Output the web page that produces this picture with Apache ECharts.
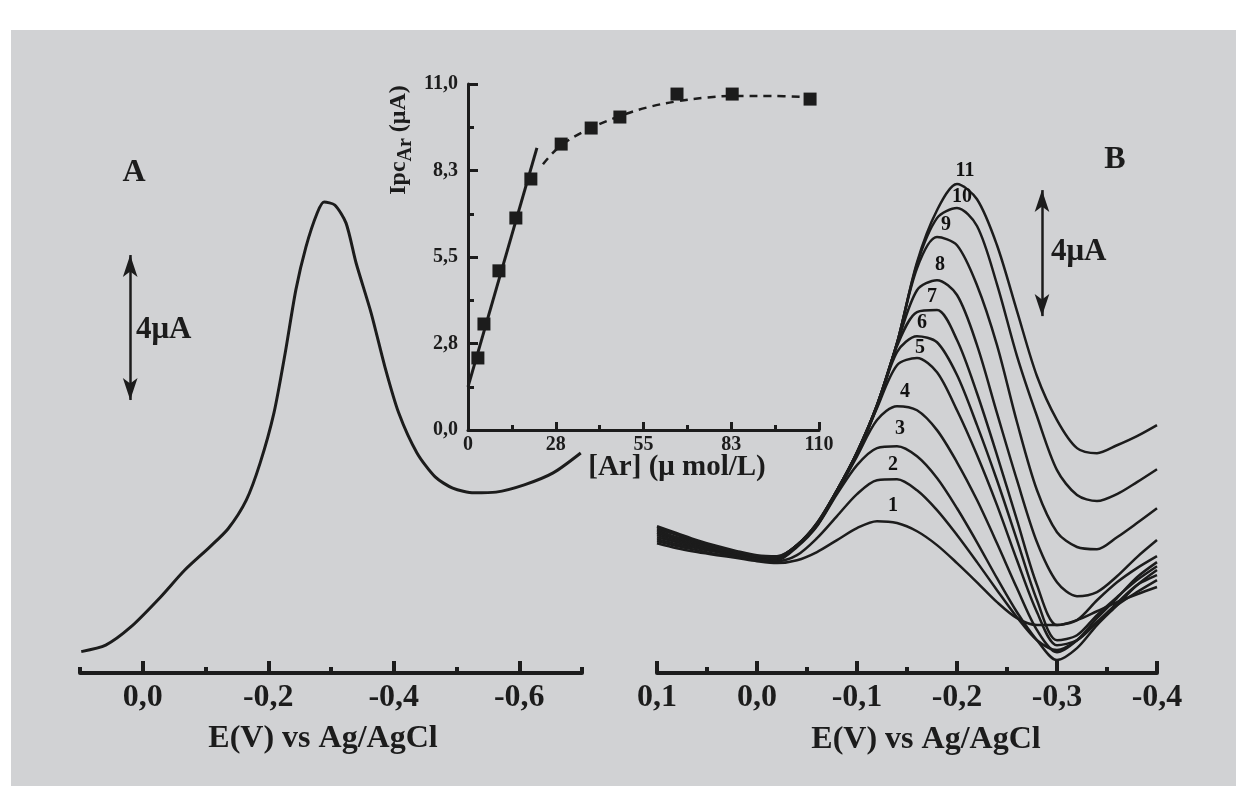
<!DOCTYPE html>
<html>
<head>
<meta charset="utf-8">
<title>Voltamogramas</title>
<script src="https://cdn.jsdelivr.net/npm/echarts@6.0.0/dist/echarts.min.js"></script>
<style>
  html, body { margin: 0; padding: 0; background: #ffffff; }
  #fundo { position: absolute; left: 11px; top: 30px; width: 1225px; height: 756px; background: #d1d2d4; }
  #grafico { position: absolute; left: 0; top: 0; width: 1236px; height: 786px; }
</style>
</head>
<body>
<div id="fundo"></div>
<div id="grafico"></div>
<script>
// ---- Painel A: voltamograma único (E em V, corrente em µA) ----
const aPotential = [0.098, 0.059, 0.019, -0.027, -0.067, -0.107, -0.136, -0.165, -0.187, -0.209,
  -0.227, -0.244, -0.260, -0.278, -0.289, -0.306, -0.324, -0.340, -0.364, -0.386,
  -0.408, -0.437, -0.466, -0.494, -0.528, -0.563, -0.608, -0.654, -0.698];
const aCurrent = [0.59, 0.77, 1.27, 2.07, 2.84, 3.48, 3.98, 4.77, 5.79, 7.17,
  8.83, 10.57, 11.75, 12.69, 12.99, 12.91, 12.41, 11.31, 9.93, 8.44,
  7.17, 6.07, 5.41, 5.10, 4.97, 4.99, 5.19, 5.52, 6.07];
const aScaleBar = [[0.02, 7.53], [0.02, 11.53]]; // barra de 4 µA

// ---- Painel B: 11 voltamogramas ----
const bPotential = [0.10, 0.08, 0.06, 0.04, 0.02, 0.00, -0.02, -0.04, -0.06, -0.08, -0.10, -0.12, -0.14,
  -0.16, -0.18, -0.20, -0.22, -0.24, -0.26, -0.28, -0.30, -0.32, -0.34, -0.36, -0.38, -0.40];
const bCurve1 = [4.22, 4.06, 3.94, 3.84, 3.75, 3.65, 3.59, 3.68, 3.94, 4.32, 4.70, 4.92, 4.86, 4.60, 4.16, 3.59, 2.98, 2.35, 1.84, 1.62, 1.62, 1.78, 2.06, 2.35, 2.60, 2.83];
const bCurve2 = [4.29, 4.13, 4.00, 3.87, 3.78, 3.68, 3.65, 3.84, 4.38, 5.08, 5.78, 6.22, 6.25, 5.90, 5.27, 4.48, 3.62, 2.73, 1.87, 1.14, 0.83, 1.14, 1.71, 2.25, 2.67, 3.05];
const bCurve3 = [4.35, 4.19, 4.06, 3.94, 3.81, 3.71, 3.68, 4.10, 4.76, 5.78, 6.70, 7.24, 7.30, 6.98, 6.29, 5.33, 4.25, 3.11, 2.03, 1.14, 0.51, 0.89, 1.62, 2.25, 2.89, 3.37];
const bCurve4 = [4.41, 4.25, 4.10, 3.97, 3.84, 3.75, 3.71, 4.13, 4.79, 5.84, 6.98, 8.13, 8.57, 8.44, 7.81, 6.79, 5.59, 4.22, 2.79, 1.46, 0.76, 1.14, 1.84, 2.48, 3.14, 3.62];
const bCurve5 = [4.48, 4.29, 4.13, 4.00, 3.84, 3.75, 3.71, 4.13, 4.79, 5.87, 7.02, 8.51, 9.87, 10.10, 9.65, 8.44, 7.02, 5.43, 3.68, 2.03, 0.98, 1.14, 1.71, 2.32, 2.89, 3.21];
const bCurve6 = [4.54, 4.35, 4.16, 4.03, 3.87, 3.78, 3.75, 4.16, 4.79, 5.87, 7.05, 8.54, 10.29, 10.79, 10.60, 9.56, 7.97, 6.22, 4.32, 2.41, 1.14, 1.30, 1.94, 2.51, 3.05, 3.49];
const bCurve7 = [4.57, 4.38, 4.19, 4.03, 3.90, 3.78, 3.75, 4.16, 4.83, 5.90, 7.08, 8.57, 10.48, 11.56, 11.62, 10.67, 8.98, 7.02, 4.95, 2.89, 1.62, 1.78, 2.41, 2.98, 3.43, 3.81];
const bCurve8 = [4.63, 4.41, 4.22, 4.06, 3.90, 3.81, 3.78, 4.16, 4.83, 5.90, 7.08, 8.60, 10.54, 12.25, 12.57, 12.10, 10.51, 8.35, 6.22, 4.25, 2.98, 2.54, 2.67, 3.17, 3.78, 4.32];
const bCurve9 = [4.67, 4.48, 4.25, 4.10, 3.94, 3.81, 3.78, 4.16, 4.83, 5.90, 7.11, 8.60, 10.57, 12.95, 13.94, 13.68, 12.41, 10.51, 8.06, 5.90, 4.57, 4.10, 4.03, 4.41, 4.86, 5.33];
const bCurve10 = [4.73, 4.51, 4.29, 4.10, 3.94, 3.81, 3.78, 4.16, 4.86, 5.90, 7.11, 8.60, 10.57, 13.08, 14.54, 14.86, 14.29, 12.44, 10.16, 8.25, 6.54, 5.75, 5.56, 5.78, 6.16, 6.57];
const bCurve11 = [4.76, 4.54, 4.32, 4.13, 3.97, 3.84, 3.81, 4.16, 4.86, 5.90, 7.11, 8.60, 10.57, 13.14, 14.79, 15.62, 15.14, 13.68, 11.59, 9.52, 8.13, 7.24, 7.08, 7.33, 7.62, 7.97];
const bLabelNames = ['1', '2', '3', '4', '5', '6', '7', '8', '9', '10', '11'];
const bLabelPos = [[-0.136, 5.40], [-0.136, 6.70], [-0.143, 7.84], [-0.148, 9.02], [-0.163, 10.41], [-0.165, 11.21],
  [-0.175, 12.03], [-0.183, 13.05], [-0.189, 14.32], [-0.205, 15.21], [-0.208, 16.05]];
const bScaleBar = [[-0.285, 11.43], [-0.285, 15.43]];

// ---- Inserção: Ipc x [Ar] ----
const insetConc = [3.1, 5.0, 9.7, 15.0, 19.7, 29.2, 38.6, 47.6, 65.5, 82.8, 107.2];
const insetIpc = [2.29, 3.37, 5.06, 6.74, 7.98, 9.09, 9.60, 9.95, 10.68, 10.68, 10.52];
const linFitConc = [0, 21.6];
const linFitIpc = [1.37, 8.97];
const curveFitConc = [23.5, 29.2, 38.6, 47.6, 56, 65.5, 75, 83, 95, 107.2];
const curveFitIpc = [8.45, 9.05, 9.60, 9.98, 10.25, 10.45, 10.57, 10.62, 10.62, 10.58];

// ---- marcas dos eixos ----
const aMajorTicks = [0, -0.2, -0.4, -0.6];
const aMinorTicks = [0.1, -0.1, -0.3, -0.5, -0.7];
const bMajorTicks = [0.1, 0, -0.1, -0.2, -0.3, -0.4];
const bMinorTicks = [0.05, -0.05, -0.15, -0.25, -0.35];
const insetXMajor = [0, 27.5, 55, 82.5, 110];
const insetXMinor = [13.75, 41.25, 68.75, 96.25];
const insetYMajor = [0, 2.75, 5.5, 8.25, 11];
const insetYMinor = [1.375, 4.125, 6.875, 9.625];

const cor = '#1c1c1c';
const serif = '"Liberation Serif", "DejaVu Serif", serif';
const virgula = (v) => v.toFixed(1).replace('.', ',');
const zip = (xs, ys) => xs.map((x, i) => [x, ys[i]]);

// eixo com marcas personalizadas (principal ou secundário)
function eixo(gridIndex, min, max, opt) {
  return {
    gridIndex: gridIndex,
    type: 'value',
    min: min,
    max: max,
    inverse: !!opt.inverse,
    axisLine: { show: !!opt.line, onZero: false, lineStyle: { color: cor, width: opt.width } },
    axisTick: { show: true, inside: true, length: opt.tickLen, customValues: opt.ticks, lineStyle: { color: cor, width: opt.width } },
    axisLabel: opt.labels ? {
      show: true, customValues: opt.ticks, formatter: opt.formatter, margin: opt.margin,
      color: cor, fontFamily: serif, fontWeight: 'bold', fontSize: opt.fontSize
    } : { show: false },
    splitLine: { show: false }
  };
}
const oculto = (gridIndex, min, max) => ({ gridIndex: gridIndex, type: 'value', min: min, max: max, show: false, splitLine: { show: false } });

const gradeA = { left: 80, top: 93, width: 502, height: 580, outerBoundsMode: 'none' };
const gradeB = { left: 657, top: 140.65, width: 500, height: 532.35, outerBoundsMode: 'none' };
const gradeIn = { left: 468, top: 84, width: 351, height: 346, outerBoundsMode: 'none' };

const seta = (pontos) => ({
  silent: true,
  symbol: ['arrow', 'arrow'],
  symbolSize: [11, 22],
  label: { show: false },
  lineStyle: { type: 'solid', color: cor, width: 2.5 },
  data: [[{ coord: pontos[0] }, { coord: pontos[1] }]]
});

const curvasB = [bCurve1, bCurve2, bCurve3, bCurve4, bCurve5, bCurve6, bCurve7, bCurve8, bCurve9, bCurve10, bCurve11];

const series = [
  {
    type: 'line', xAxisIndex: 0, yAxisIndex: 0,
    data: zip(aPotential, aCurrent), smooth: 0.25, showSymbol: false,
    lineStyle: { color: cor, width: 3 },
    markLine: seta(aScaleBar)
  }
];
curvasB.forEach((c, i) => {
  series.push({
    type: 'line', xAxisIndex: 2, yAxisIndex: 2,
    data: zip(bPotential, c), smooth: 0.3, showSymbol: false,
    lineStyle: { color: cor, width: 2.5 },
    markLine: i === 0 ? seta(bScaleBar) : undefined
  });
});
// números das curvas (símbolo transparente, só o rótulo aparece)
series.push({
  type: 'scatter', xAxisIndex: 2, yAxisIndex: 2,
  symbolSize: 1, itemStyle: { color: 'rgba(0,0,0,0)', opacity: 1 },
  data: bLabelPos.map((p, i) => ({ value: p, name: bLabelNames[i] })),
  label: { show: true, position: 'inside', formatter: '{b}', color: '#111111', opacity: 1, fontFamily: serif, fontWeight: 'bold', fontSize: 20 },
  z: 5
});
series.push({
  type: 'line', xAxisIndex: 4, yAxisIndex: 4,
  data: zip(linFitConc, linFitIpc), showSymbol: false,
  lineStyle: { color: cor, width: 3 }
});
series.push({
  type: 'line', xAxisIndex: 4, yAxisIndex: 4,
  data: zip(curveFitConc, curveFitIpc), smooth: 0.4, showSymbol: false,
  lineStyle: { color: cor, width: 2.5, type: [8, 6] }
});
series.push({
  type: 'scatter', xAxisIndex: 4, yAxisIndex: 4,
  symbol: 'rect', symbolSize: 13,
  itemStyle: { color: cor, opacity: 1 },
  data: zip(insetConc, insetIpc),
  z: 5
});

const texto = (x, y, t, tam, alinh) => ({
  type: 'text', x: x, y: y,
  style: { text: t, font: 'bold ' + tam + 'px ' + serif, fill: cor, align: alinh || 'center', verticalAlign: 'middle' }
});

const option = {
  animation: false,
  backgroundColor: 'transparent',
  grid: [gradeA, gradeA, gradeB, gradeB, gradeIn, gradeIn],
  xAxis: [
    eixo(0, -0.7, 0.1, { inverse: true, line: true, width: 4, tickLen: 12, ticks: aMajorTicks, labels: true, formatter: virgula, margin: 9, fontSize: 32 }),
    eixo(1, -0.7, 0.1, { inverse: true, line: false, width: 4, tickLen: 6, ticks: aMinorTicks }),
    eixo(2, -0.4, 0.1, { inverse: true, line: true, width: 4, tickLen: 12, ticks: bMajorTicks, labels: true, formatter: virgula, margin: 9, fontSize: 32 }),
    eixo(3, -0.4, 0.1, { inverse: true, line: false, width: 4, tickLen: 6, ticks: bMinorTicks }),
    eixo(4, 0, 110, { line: true, width: 3, tickLen: 8, ticks: insetXMajor, labels: true, formatter: (v) => String(Math.round(v)), margin: 5, fontSize: 20 }),
    eixo(5, 0, 110, { line: false, width: 3, tickLen: 5, ticks: insetXMinor })
  ],
  yAxis: [
    oculto(0, 0, 16),
    oculto(1, 0, 16),
    oculto(2, 0.1, 17),
    oculto(3, 0.1, 17),
    eixo(4, 0, 11, { line: true, width: 3, tickLen: 10, ticks: insetYMajor, labels: true, formatter: virgula, margin: 10, fontSize: 20 }),
    eixo(5, 0, 11, { line: false, width: 3, tickLen: 6, ticks: insetYMinor })
  ],
  graphic: [
    texto(134, 173, 'A', 32),
    texto(1115, 160, 'B', 32),
    texto(136, 330, '4μA', 31, 'left'),
    texto(1051, 252, '4μA', 31, 'left'),
    texto(323, 739, 'E(V) vs Ag/AgCl', 32),
    texto(926, 740, 'E(V) vs Ag/AgCl', 32),
    texto(677, 468, '[Ar] (μ mol/L)', 29),
    {
      type: 'text', x: 399, y: 140, rotation: Math.PI / 2,
      style: {
        text: '{m|Ipc}{s|Ar}{m| (μA)}',
        fill: cor, align: 'center', verticalAlign: 'middle',
        rich: {
          m: { fontFamily: serif, fontWeight: 'bold', fontSize: 24, fill: cor },
          s: { fontFamily: serif, fontWeight: 'bold', fontSize: 20, fill: cor, padding: [14, 0, 0, 0] }
        }
      }
    }
  ],
  series: series
};

const chart = echarts.init(document.getElementById('grafico'));
chart.setOption(option);
</script>
</body>
</html>
